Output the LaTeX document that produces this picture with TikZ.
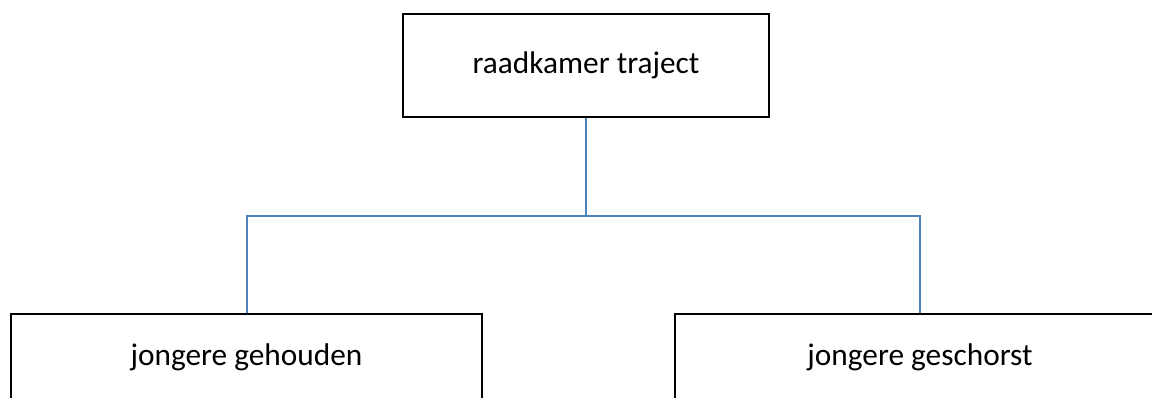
\documentclass[tikz,border=0pt]{standalone}
\usepackage{fontspec}
\setmainfont{Carlito}
\usepackage{xcolor}
\definecolor{linkblue}{HTML}{4F81BD}

\begin{document}
\begin{tikzpicture}[x=0.75pt,y=-0.75pt,font=\fontsize{23.5}{28}\selectfont]
    \tikzstyle{box}=[draw=black, line width=2pt, fill=white, inner sep=0pt, align=center]
    \tikzstyle{link}=[draw=linkblue, line width=1.5pt]

    \useasboundingbox (0,0) rectangle (1152,397);
    \clip (0,0) rectangle (1152,397);

    \node[box, minimum width=366*0.75pt, minimum height=103*0.75pt] (raad) at (586,65.5) {raadkamer traject};

    \node[box, minimum width=471*0.75pt, minimum height=86*0.75pt] (gehouden) at (246.5,357) {jongere gehouden};
    \node[box, minimum width=490*0.75pt, minimum height=86*0.75pt] (geschorst) at (920,357) {jongere geschorst};

    \coordinate (split) at (586,216);

    \draw[link] (raad) -- (split);
    \draw[link] (split) -| (gehouden);
    \draw[link] (split) -| (geschorst);
\end{tikzpicture}
\end{document}
